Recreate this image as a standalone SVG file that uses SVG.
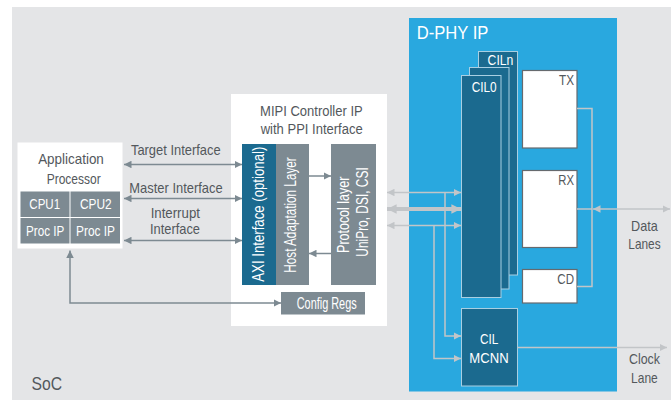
<svg xmlns="http://www.w3.org/2000/svg" width="671" height="400" viewBox="0 0 671 400">
  <style>
    text { font-family: "Liberation Sans", Arial, sans-serif; }
    .lbl { fill: #53585c; font-size: 15px; }
    .wt { fill: #ffffff; font-size: 15px; }
    .mid { text-anchor: middle; }
    .end { text-anchor: end; }
    .gbox { fill: #7d8a92; }
    .dbox { fill: #1b6a8f; }
    .cil { fill: #1b6a8f; stroke: #a9cfe2; stroke-width: 1; }
    .wbox { fill: #ffffff; stroke: #666a6e; stroke-width: 1.2; }
    .dk { fill: none; stroke: #7d8a92; stroke-width: 1.5; }
    .lt { fill: none; stroke: #c2c5c8; stroke-width: 1.5; }
    .thick { fill: none; stroke: #c2c5c8; stroke-width: 4; }
  </style>
  <defs>
    <marker id="ahDk" viewBox="0 0 10 10" refX="10" refY="5" markerWidth="5" markerHeight="5" orient="auto-start-reverse" markerUnits="strokeWidth">
      <path d="M0,0 L10,5 L0,10 z" fill="#7d8a92"/>
    </marker>
    <marker id="ahLt" viewBox="0 0 10 10" refX="10" refY="5" markerWidth="5" markerHeight="5" orient="auto-start-reverse" markerUnits="strokeWidth">
      <path d="M0,0 L10,5 L0,10 z" fill="#c2c5c8"/>
    </marker>
    <marker id="ahThick" viewBox="0 0 10 10" refX="10" refY="5" markerWidth="3.2" markerHeight="2.4" orient="auto-start-reverse" markerUnits="strokeWidth">
      <path d="M0,0 L10,5 L0,10 z" fill="#c2c5c8"/>
    </marker>
  </defs>

  <!-- page background and SoC area -->
  <rect x="0" y="0" width="671" height="400" fill="#ffffff"/>
  <rect x="12" y="7" width="659" height="393" fill="#e4e5e7"/>
  <text x="31.5" y="390" class="lbl" style="font-size:18.5px" textLength="30.6" lengthAdjust="spacingAndGlyphs">SoC</text>

  <!-- Application processor -->
  <g id="app-processor">
    <rect x="17.5" y="142.5" width="105" height="106" fill="#ffffff"/>
    <text x="71" y="163.5" class="lbl mid" textLength="65.7" lengthAdjust="spacingAndGlyphs">Application</text>
    <text x="73.7" y="183.5" class="lbl mid" textLength="54" lengthAdjust="spacingAndGlyphs">Processor</text>
    <rect x="20.5" y="191.5" width="49" height="25.5" class="gbox"/>
    <rect x="70.5" y="191.5" width="49.5" height="25.5" class="gbox"/>
    <rect x="20.5" y="218" width="49" height="25.5" class="gbox"/>
    <rect x="70.5" y="218" width="49.5" height="25.5" class="gbox"/>
    <text x="44.7" y="208.5" class="wt mid" textLength="30.7" lengthAdjust="spacingAndGlyphs">CPU1</text>
    <text x="95.8" y="208.5" class="wt mid" textLength="31.7" lengthAdjust="spacingAndGlyphs">CPU2</text>
    <text x="45.2" y="235.5" class="wt mid" textLength="38.3" lengthAdjust="spacingAndGlyphs">Proc IP</text>
    <text x="95.5" y="235.5" class="wt mid" textLength="39" lengthAdjust="spacingAndGlyphs">Proc IP</text>
  </g>

  <!-- MIPI controller -->
  <g id="mipi-controller">
    <rect x="231" y="94" width="156" height="232" fill="#ffffff"/>
    <text x="311.4" y="115.8" class="lbl mid" style="font-size:15.5px" textLength="102.7" lengthAdjust="spacingAndGlyphs">MIPI Controller IP</text>
    <text x="311.7" y="134.3" class="lbl mid" style="font-size:15.5px" textLength="102" lengthAdjust="spacingAndGlyphs">with PPI Interface</text>
  </g>
  <g id="axi-interface">
    <rect x="242" y="144" width="34" height="141" class="dbox"/>
    <text transform="translate(263.5,214.2) rotate(-90)" class="wt mid" style="font-size:16px" textLength="135" lengthAdjust="spacingAndGlyphs">AXI Interface (optional)</text>
  </g>
  <g id="host-adaptation">
    <rect x="276" y="144" width="33" height="141" class="gbox"/>
    <text transform="translate(295.5,215) rotate(-90)" class="wt mid" style="font-size:16px" textLength="115.4" lengthAdjust="spacingAndGlyphs">Host Adaptation Layer</text>
  </g>
  <g id="protocol-layer">
    <rect x="331" y="144" width="45" height="141" class="gbox"/>
    <text transform="translate(349,214.8) rotate(-90)" class="wt mid" style="font-size:16px" textLength="76.3" lengthAdjust="spacingAndGlyphs">Protocol layer</text>
    <text transform="translate(368,212) rotate(-90)" class="wt mid" style="font-size:16px" textLength="89.4" lengthAdjust="spacingAndGlyphs">UniPro, DSI, CSI</text>
  </g>
  <g id="config-regs">
    <rect x="281" y="292" width="84" height="22.5" class="gbox"/>
    <text x="326.7" y="308.5" class="wt mid" style="font-size:17px" textLength="60" lengthAdjust="spacingAndGlyphs">Config Regs</text>
  </g>

  <!-- D-PHY IP -->
  <g id="dphy-ip">
    <rect x="409" y="18" width="208" height="373.5" fill="#29a8df"/>
    <text x="416.7" y="38.7" fill="#ffffff" style="font-size:19px" textLength="71.7" lengthAdjust="spacingAndGlyphs">D-PHY IP</text>
  </g>
  <g id="cil-stack">
    <rect x="478.5" y="51.5" width="39" height="223.5" class="cil"/>
    <text x="513.3" y="65" class="wt end" textLength="25.7" lengthAdjust="spacingAndGlyphs">CILn</text>
    <rect x="469.5" y="67.5" width="39.5" height="221.5" class="cil"/>
    <rect x="461.5" y="75.5" width="39.5" height="222" class="cil"/>
    <text x="484.2" y="91.5" class="wt mid" textLength="25" lengthAdjust="spacingAndGlyphs">CIL0</text>
  </g>
  <g id="cil-mcnn">
    <rect x="461.5" y="308.5" width="56" height="77.5" class="cil"/>
    <text x="489.2" y="344" class="wt mid" textLength="18.3" lengthAdjust="spacingAndGlyphs">CIL</text>
    <text x="489" y="363.3" class="wt mid" textLength="39.3" lengthAdjust="spacingAndGlyphs">MCNN</text>
  </g>
  <g id="tx">
    <rect x="522.5" y="70.5" width="54.5" height="77.5" class="wbox"/>
    <text x="574" y="84.5" class="lbl end" textLength="15" lengthAdjust="spacingAndGlyphs">TX</text>
  </g>
  <g id="rx">
    <rect x="522.5" y="170.5" width="54.5" height="77" class="wbox"/>
    <text x="574" y="185" class="lbl end" textLength="15.7" lengthAdjust="spacingAndGlyphs">RX</text>
  </g>
  <g id="cd">
    <rect x="522.5" y="269.5" width="54.5" height="33.5" class="wbox"/>
    <text x="574" y="283.5" class="lbl end" textLength="16.7" lengthAdjust="spacingAndGlyphs">CD</text>
  </g>

  <!-- side labels -->
  <text x="175.8" y="155" class="lbl mid" textLength="89.7" lengthAdjust="spacingAndGlyphs">Target Interface</text>
  <text x="176" y="192.5" class="lbl mid" textLength="93.3" lengthAdjust="spacingAndGlyphs">Master Interface</text>
  <text x="175.3" y="218.3" class="lbl mid" textLength="49.3" lengthAdjust="spacingAndGlyphs">Interrupt</text>
  <text x="175" y="234" class="lbl mid" textLength="50" lengthAdjust="spacingAndGlyphs">Interface</text>
  <text x="644.4" y="230.5" class="lbl mid" textLength="26.7" lengthAdjust="spacingAndGlyphs">Data</text>
  <text x="644.5" y="249.3" class="lbl mid" textLength="32.3" lengthAdjust="spacingAndGlyphs">Lanes</text>
  <text x="644.5" y="364" class="lbl mid" textLength="31" lengthAdjust="spacingAndGlyphs">Clock</text>
  <text x="644.4" y="382.7" class="lbl mid" textLength="26.7" lengthAdjust="spacingAndGlyphs">Lane</text>

  <!-- connectors -->
  <g id="connectors">
    <path d="M124,164.5 H242" class="dk" marker-start="url(#ahDk)" marker-end="url(#ahDk)"/>
    <path d="M124,198.5 H242" class="dk" marker-start="url(#ahDk)" marker-end="url(#ahDk)"/>
    <path d="M124,240.5 H242" class="dk" marker-start="url(#ahDk)" marker-end="url(#ahDk)"/>
    <path d="M281,303 H70 V250.5" class="dk" marker-start="url(#ahDk)" marker-end="url(#ahDk)"/>
    <path d="M309,176 H331" class="dk" marker-end="url(#ahDk)"/>
    <path d="M331,253.5 H309" class="dk" marker-end="url(#ahDk)"/>

    <path d="M387,192.5 H461" class="lt" marker-start="url(#ahLt)" marker-end="url(#ahLt)"/>
    <path d="M387,209 H461" class="thick" marker-start="url(#ahThick)" marker-end="url(#ahThick)"/>
    <path d="M387,225.5 H461" class="lt" marker-start="url(#ahLt)" marker-end="url(#ahLt)"/>
    <path d="M445,192.5 V336 H461" class="lt" marker-end="url(#ahLt)"/>
    <path d="M434,225.5 V358.5 H461" class="lt" marker-end="url(#ahLt)"/>

    <path d="M577,108.5 H592 V286.5 H577" class="lt"/>
    <path d="M577,209 H592" class="lt"/>
    <path d="M593,209 H670" class="lt" marker-start="url(#ahLt)" marker-end="url(#ahLt)"/>
    <path d="M517.5,347.5 H667" class="lt" marker-end="url(#ahLt)"/>
  </g>
</svg>
